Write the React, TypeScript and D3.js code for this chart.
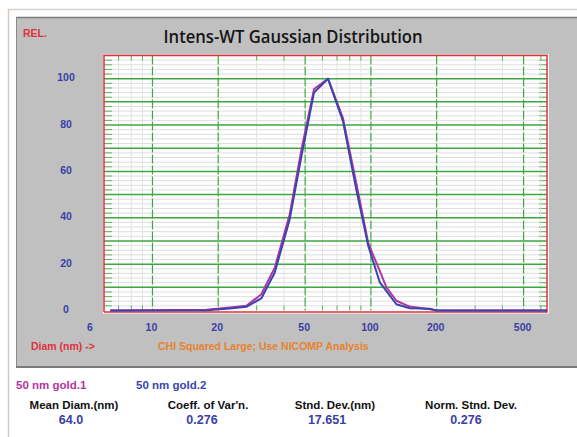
import React from 'react';
import * as d3 from 'd3';

// diameters (nm) where the curves have vertices
const diameters = [6.4, 17.7, 22.6, 26.9, 31.5, 36.3, 42.5, 48.1, 54.9, 63.6, 74.5, 85.7, 97.3, 109.9, 117.8, 130.8, 150.5, 185.8, 200, 640];
const gold1 = [0, 0.3, 1.3, 2.0, 7, 18.5, 41.5, 69.5, 95.5, 100, 83, 55, 29, 17, 10, 4.2, 1.7, 0.5, 0, 0];
const gold2 = [0, 0.1, 0.9, 1.6, 5.2, 16.4, 39.4, 66.6, 94, 100, 81.7, 52.3, 27.8, 12.1, 8.4, 2.7, 1.0, 0.8, 0, 0];

const yTicks = [0, 20, 40, 60, 80, 100];
const xTicks = [6, 10, 20, 50, 100, 200, 500];
const xMajor = [10, 20, 50, 100, 200, 500];
const xMinor = [7, 8, 9, 30, 40, 60, 70, 80, 90, 300, 400, 600];

const seriesNames = ['50 nm gold.1', '50 nm gold.2'];
const statHeaders = ['Mean Diam.(nm)', "Coeff. of Var'n.", 'Stnd. Dev.(nm)', 'Norm. Stnd. Dev.'];
const statValues = ['64.0', '0.276', '17.651', '0.276'];

const W = 577;
const H = 437;
const plot = { left: 104, right: 547, top: 55.5, bottom: 310.5 };

const RED = '#e0323a';
const GREEN = '#3ea63e';
const MAGENTA = '#b3369e';
const BLUE = '#3a44b0';
const LABEL_BLUE = '#3a3fa6';
const FONT = '"Liberation Sans", Arial, sans-serif';

const App: React.FC = () => {
  const x = d3.scaleLog().domain([6, 640]).range([plot.left, plot.right]);
  const y = d3.scaleLinear().domain([0, 110]).range([plot.bottom, plot.top]);

  const line = d3.line<[number, number]>()
    .x(d => x(d[0]))
    .y(d => y(d[1]));

  const pts1 = diameters.map((d, i) => [d, gold1[i]] as [number, number]);
  const pts2 = diameters.map((d, i) => [d, gold2[i]] as [number, number]);

  const minorY = d3.range(2, 110, 2).filter(v => v % 10 !== 0);
  const majorY = d3.range(10, 101, 10);

  const headerX = [74, 208, 335, 471];
  const valueX = [71, 202, 327, 466];

  return (
    <svg width={W} height={H} style={{ position: 'absolute', left: 0, top: 0, background: '#fff' }}>
      {/* outer frame */}
      <line x1={9} x2={W} y1={9.5} y2={9.5} stroke="#d6d2cc" strokeWidth={1.5} />
      <line x1={8.5} x2={8.5} y1={9} y2={H} stroke="#d6c8bc" strokeWidth={1.5} />

      {/* grey panel */}
      <rect x={16} y={17} width={W - 16} height={349} fill="#c0c0c0" />
      <line x1={16} x2={W} y1={17.5} y2={17.5} stroke="#7a7a7a" strokeWidth={1.5} />
      <line x1={16.5} x2={16.5} y1={17} y2={367} stroke="#8a8a8a" strokeWidth={1} />
      <line x1={16} x2={W} y1={367} y2={367} stroke="#7a7a7a" strokeWidth={2} />

      <text x={23} y={37} fill={RED} fontFamily={FONT} fontWeight="bold" fontSize={10.5}>REL.</text>
      <text x={293} y={43} textAnchor="middle" fill="#151515" fontFamily='"Open Sans", Lato, sans-serif' fontWeight={600} fontSize={18}
        textLength={259} lengthAdjust="spacingAndGlyphs">
        Intens-WT Gaussian Distribution
      </text>

      {/* plot area */}
      <rect x={plot.left - 1} y={plot.top - 1} width={plot.right - plot.left + 3} height={plot.bottom - plot.top + 4} fill="#fff" />

      {minorY.map(v => (
        <g key={`hy${v}`}>
          <line x1={plot.left} x2={plot.right} y1={y(v)} y2={y(v)} stroke="#dedede" strokeWidth={1} />
          <line x1={plot.left} x2={plot.left + 8} y1={y(v)} y2={y(v)} stroke={GREEN} strokeWidth={1} opacity={0.8} />
          <line x1={plot.right - 8} x2={plot.right} y1={y(v)} y2={y(v)} stroke={GREEN} strokeWidth={1} opacity={0.8} />
        </g>
      ))}
      {xMinor.map(v => (
        <g key={`vx${v}`}>
          <line x1={x(v)} x2={x(v)} y1={plot.top} y2={plot.bottom} stroke="#e2e2e2" strokeWidth={1} />
          <line x1={x(v)} x2={x(v)} y1={plot.top} y2={plot.top + 5} stroke={GREEN} strokeWidth={1} opacity={0.8} />
          <line x1={x(v)} x2={x(v)} y1={plot.bottom - 5} y2={plot.bottom} stroke={GREEN} strokeWidth={1} opacity={0.8} />
        </g>
      ))}
      {majorY.map(v => (
        <line key={`my${v}`} x1={plot.left} x2={plot.right} y1={y(v)} y2={y(v)} stroke={GREEN} strokeWidth={1.5} />
      ))}
      {xMajor.map(v => (
        <line key={`mx${v}`} x1={x(v)} x2={x(v)} y1={plot.top} y2={plot.bottom} stroke={GREEN} strokeWidth={1.2} strokeDasharray="9,2" />
      ))}

      {/* red frame */}
      <path
        d={`M${plot.left},${plot.bottom + 1.5}V${plot.top}H${plot.right}V${plot.bottom + 1.5}H${plot.left}`}
        fill="none" stroke={RED} strokeWidth={1.5}
      />

      <path d={line(pts1) || ''} fill="none" stroke={MAGENTA} strokeWidth={2} strokeLinejoin="round" />
      <path d={line(pts2) || ''} fill="none" stroke={BLUE} strokeWidth={2} strokeLinejoin="round" />

      {/* axes labels */}
      {yTicks.map(v => (
        <text key={`yt${v}`} x={66} y={y(v) + 2.5} textAnchor="middle" fill={LABEL_BLUE}
          fontFamily={FONT} fontWeight="bold" fontSize={10.5}>{v}</text>
      ))}
      {xTicks.map(v => (
        <text key={`xt${v}`} x={v === 6 ? x(v) - 14 : x(v) - 1} y={330.5} textAnchor="middle" fill={LABEL_BLUE}
          fontFamily={FONT} fontWeight="bold" fontSize={10.5}>{v}</text>
      ))}
      <text x={31} y={349.5} fill={RED} fontFamily={FONT} fontWeight="bold" fontSize={10.5}>Diam (nm) -&gt;</text>
      <text x={158} y={349.5} fill="#e8822e" fontFamily={FONT} fontWeight="bold" fontSize={10.5}>
        CHI Squared Large; Use NICOMP Analysis
      </text>

      {/* legend */}
      <text x={16} y={389} fill={MAGENTA} fontFamily={FONT} fontWeight="bold" fontSize={11.5}>{seriesNames[0]}</text>
      <text x={136} y={389} fill={BLUE} fontFamily={FONT} fontWeight="bold" fontSize={11.5}>{seriesNames[1]}</text>

      {/* stats */}
      {statHeaders.map((h, i) => (
        <text key={`h${i}`} x={headerX[i]} y={409} textAnchor="middle" fill="#111"
          fontFamily={FONT} fontWeight="bold" fontSize={11.5}>{h}</text>
      ))}
      {statValues.map((v, i) => (
        <text key={`v${i}`} x={valueX[i]} y={423.5} textAnchor="middle" fill={LABEL_BLUE}
          fontFamily={FONT} fontWeight="bold" fontSize={12.5}>{v}</text>
      ))}
    </svg>
  );
};

export default App;
